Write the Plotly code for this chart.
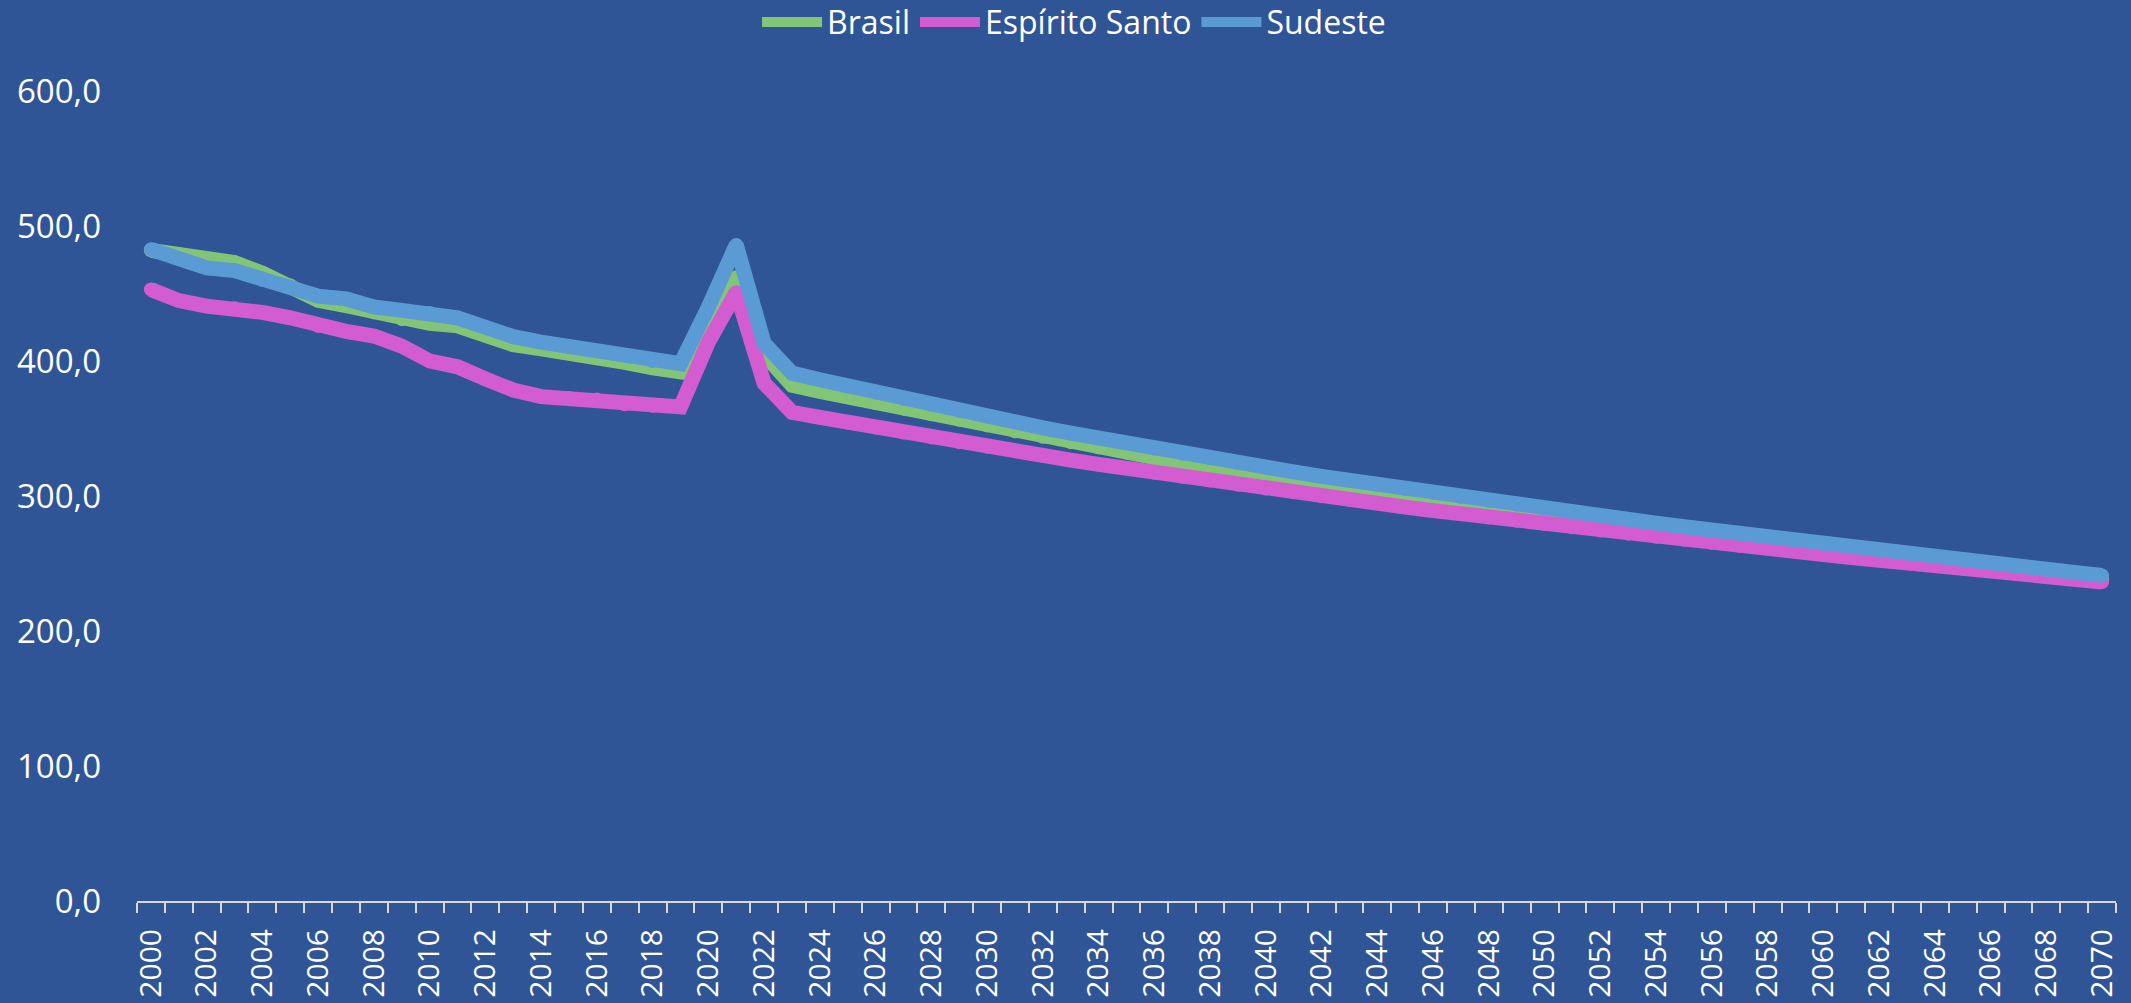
import plotly.graph_objects as go

anos = list(range(2000, 2071))

brasil = [482.0, 479.0, 475.5, 473.0, 465.0, 456.0, 445.0, 441.0, 436.0, 431.0,
          428.0, 426.0, 420.0, 412.0, 409.0, 406.5, 403.0, 399.0, 395.0, 392.0,
          428.0, 462.0, 405.0, 382.0, 377.5, 373.2, 368.9, 364.7, 360.5, 356.4,
          352.3, 348.0, 343.9, 339.9, 336.0, 332.2, 328.5, 324.9, 321.4, 317.9,
          314.5, 310.9, 307.8, 304.8, 301.8, 298.8, 295.9, 293.0, 290.2, 287.4,
          284.7, 282.0, 279.5, 277.0, 274.4, 272.0, 269.5, 267.1, 264.7, 262.4,
          260.0, 257.8, 255.5, 253.3, 251.0, 248.8, 246.6, 244.5, 242.3, 240.3,
          238.2]

espirito_santo = [453.0, 444.7, 440.6, 439.0, 436.0, 432.0, 426.0, 422.0, 418.5, 411.0,
                  400.0, 395.7, 386.7, 378.5, 373.6, 372.5, 371.4, 368.0, 366.9, 366.0,
                  414.0, 451.0, 383.5, 362.0, 358.2, 354.4, 350.7, 347.0, 343.4, 339.9,
                  336.5, 333.1, 329.8, 326.6, 323.4, 320.3, 317.3, 314.3, 311.4, 308.4,
                  305.6, 302.7, 299.9, 297.1, 294.5, 291.8, 289.2, 286.7, 284.1, 281.6,
                  279.2, 276.8, 274.4, 272.1, 269.8, 267.6, 265.3, 263.1, 260.9, 258.8,
                  256.6, 254.5, 252.4, 250.3, 248.3, 246.2, 244.2, 242.2, 240.2, 238.3,
                  236.3]

sudeste = [482.7, 475.5, 469.0, 467.0, 460.0, 455.0, 448.0, 446.0, 440.0, 437.5,
           435.5, 432.0, 425.0, 418.0, 414.0, 411.0, 407.6, 404.0, 400.0, 398.0,
           440.0, 486.0, 413.0, 391.0, 386.1, 381.3, 376.6, 372.0, 367.5, 363.1,
           358.8, 354.6, 350.5, 346.5, 342.6, 338.8, 335.1, 331.5, 328.0, 324.5,
           321.1, 317.8, 314.6, 311.5, 308.4, 305.3, 302.3, 299.3, 296.4, 293.5,
           290.7, 287.9, 285.2, 282.5, 279.8, 277.2, 274.6, 272.0, 269.5, 267.0,
           264.5, 262.1, 259.7, 257.3, 254.9, 252.5, 250.2, 247.9, 245.6, 243.4,
           241.2]

y_ticks = [0, 100, 200, 300, 400, 500, 600]
y_labels = ["0,0", "100,0", "200,0", "300,0", "400,0", "500,0", "600,0"]
x_ticks = list(range(2000, 2071, 2))

series = [
    ("Brasil", brasil, "#83C576"),
    ("Espírito Santo", espirito_santo, "#D25CD0"),
    ("Sudeste", sudeste, "#5B9BD5"),
]

fig = go.Figure()
for nome, valores, cor in series:
    fig.add_scatter(x=anos, y=valores, mode="lines", name=nome, legendgroup=nome,
                    line=dict(color=cor, width=15))
    # round joins / ends, like the original
    fig.add_scatter(x=anos, y=valores, mode="markers", legendgroup=nome, showlegend=False,
                    marker=dict(color=cor, size=14, line=dict(width=0)), hoverinfo="skip")

fig.update_layout(
    width=2131, height=1003,
    paper_bgcolor="#2F5597", plot_bgcolor="#2F5597",
    font=dict(family="Open Sans", size=33, color="white"),
    margin=dict(l=137, r=15, t=91, b=102, autoexpand=False),
    showlegend=True,
    legend=dict(orientation="h", x=0.4735, xanchor="center", y=1.085, yanchor="middle",
                font=dict(size=32, color="white"), itemwidth=60,
                bgcolor="rgba(0,0,0,0)"),
)
fig.update_xaxes(
    range=[1999.5, 2070.5], tickmode="array", tickvals=x_ticks,
    ticktext=[str(a) for a in x_ticks], tickangle=-90, automargin=False,
    tickfont=dict(size=30),
    showgrid=False, zeroline=False, showline=True, linecolor="#D9D9D9", linewidth=2,
    ticks="", ticklabelstandoff=14,
    minor=dict(tick0=1999.5, dtick=1, ticks="outside", ticklen=10,
               tickcolor="#D9D9D9", tickwidth=2, showgrid=False),
)
fig.update_yaxes(
    range=[0, 600], tickmode="array", tickvals=y_ticks, ticktext=y_labels,
    showgrid=False, zeroline=False, showline=False, ticks="", automargin=False,
    ticklabelstandoff=35,
)

fig.write_html("out.html", config={"displayModeBar": False},
               post_script="document.body.style.margin='0';")
